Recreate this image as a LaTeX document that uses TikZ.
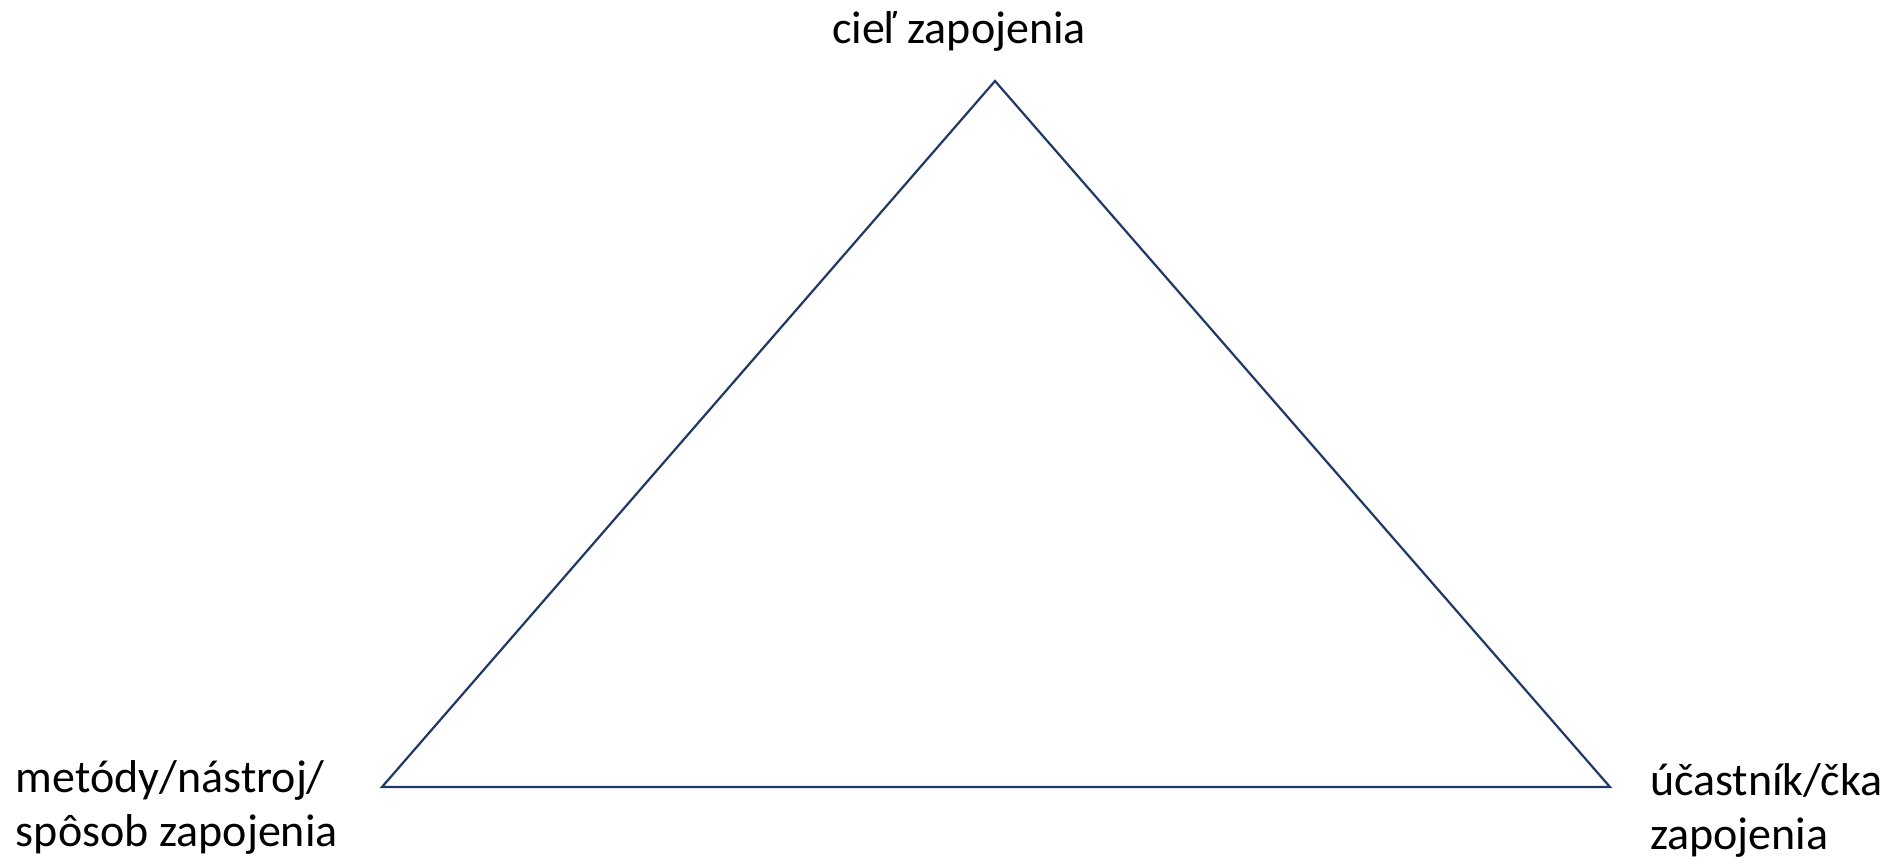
\documentclass[tikz,border=0pt]{standalone}
\usepackage{fontspec}
\setmainfont{Carlito}
\definecolor{navy}{HTML}{1F3864}
\begin{document}
\begin{tikzpicture}[x=1pt,y=-1pt,
  lbl/.style={inner sep=0pt,outer sep=0pt,font=\fontsize{46}{54}\selectfont,align=left,text=black},
  tri/.style={draw=navy,line width=2.2pt,line join=miter}]
\useasboundingbox (0,0) rectangle (1893,865);
\coordinate (top) at (995,81);
\coordinate (bl) at (382,787);
\coordinate (br) at (1610,787);
\draw[tri] (top) -- (br) -- (bl) -- cycle;
\node[lbl,anchor=base west] (goal) at (832,43) {cieľ zapojenia};
\node[lbl,anchor=base west] (method) at (16,846) {metódy/nástroj/\\spôsob zapojenia};
\node[lbl,anchor=base west] (part) at (1650,849) {účastník/čka\\zapojenia};
\end{tikzpicture}
\end{document}
